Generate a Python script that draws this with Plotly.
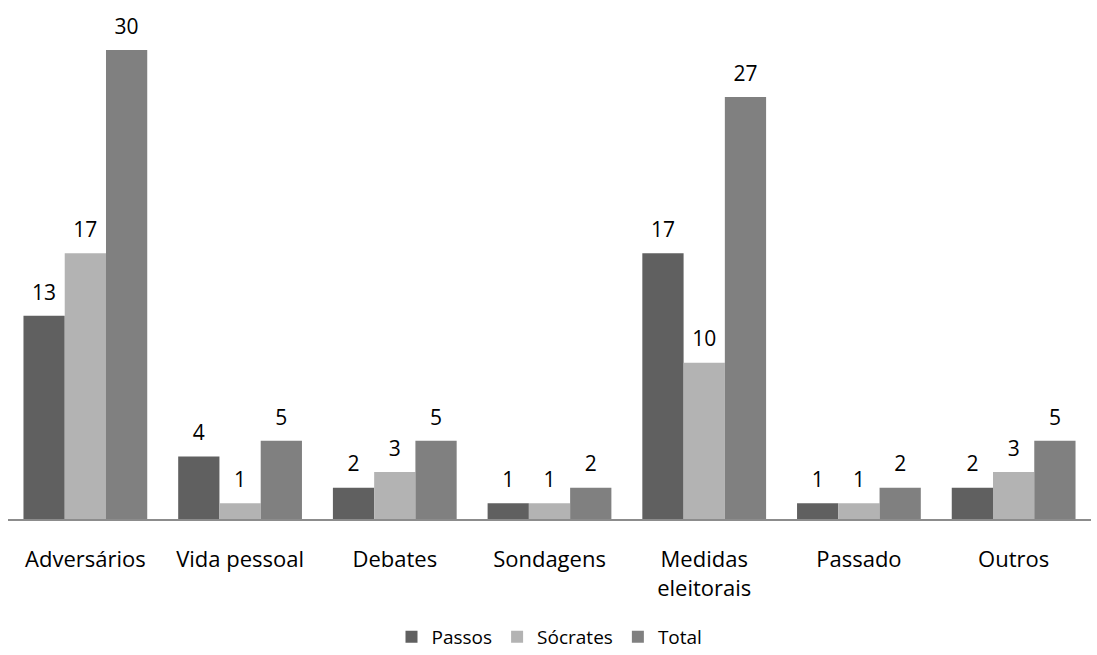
import plotly.graph_objects as go

categories = ["Adversários", "Vida pessoal", "Debates", "Sondagens", "Medidas<br>eleitorais", "Passado", "Outros"]
passos = [13, 4, 2, 1, 17, 1, 2]
socrates = [17, 1, 3, 1, 10, 1, 3]
total = [30, 5, 5, 2, 27, 2, 5]

series = [("Passos", passos, "#606060"), ("Sócrates", socrates, "#b3b3b3"), ("Total", total, "#808080")]
FONT = "Open Sans, sans-serif"

fig = go.Figure()
for name, vals, col in series:
    fig.add_trace(go.Bar(
        name=name, x=categories, y=vals, marker=dict(color=col, line=dict(width=0)),
        offsetgroup=name, legendgroup=name,
    ))
for name, vals, col in series:
    fig.add_trace(go.Scatter(
        x=categories, y=vals, mode="markers+text", text=[str(v) for v in vals],
        textposition="top center", offsetgroup=name, showlegend=False, hoverinfo="skip",
        marker=dict(size=16, opacity=0), cliponaxis=False,
        textfont=dict(size=21, color="#000000", family=FONT),
    ))

fig.update_layout(
    width=1097, height=655,
    margin=dict(l=8, r=6, t=0, b=136, autoexpand=False),
    paper_bgcolor="white", plot_bgcolor="white",
    barmode="group", bargap=0.2, bargroupgap=0,
    scattermode="group", scattergap=0.2,
    font=dict(family=FONT, size=21, color="#000000"),
    showlegend=True,
    legend=dict(orientation="h", x=0.5, xanchor="center", y=-0.227, yanchor="middle",
                font=dict(size=19), itemwidth=30, traceorder="normal"),
    xaxis=dict(showline=True, linecolor="#8c8c8c", linewidth=2, ticks="", showgrid=False,
               tickfont=dict(size=22), ticklabelstandoff=20, automargin=False),
    yaxis=dict(visible=False, range=[0, 33.2], showgrid=False, zeroline=False, automargin=False),
)

fig.write_html("out.html")
